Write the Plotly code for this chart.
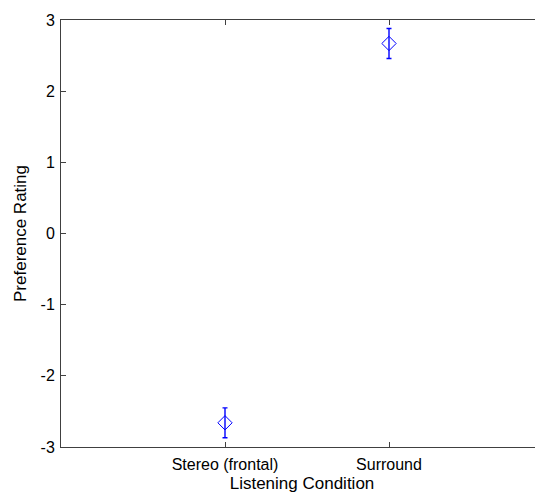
import plotly.graph_objects as go

conditions = ["Stereo (frontal)", "Surround"]
x_pos = [1, 2]
means = [-2.66, 2.67]
errors = [0.21, 0.21]
y_ticks = [-3, -2, -1, 0, 1, 2, 3]
y_tick_text = ["-3", "-2", "-1", "0", "1", "2", "3"]

fig = go.Figure()
fig.add_trace(go.Scatter(
    x=x_pos, y=means, mode="markers",
    marker=dict(symbol="diamond-open", size=11, color="#0000ff", line=dict(width=1, color="#0000ff")),
    error_y=dict(type="data", array=errors, visible=True, color="#0000ff", thickness=1.4, width=2.5),
    showlegend=False,
))

fam = "Liberation Sans, Arial, sans-serif"
# body has an 8px default margin in the page, so the figure is sized/offset accordingly
fig.update_layout(
    width=535, height=487,
    margin=dict(l=53, r=0, t=12, b=48),
    plot_bgcolor="white", paper_bgcolor="white",
    font=dict(family=fam, size=15, color="#000000"),
    xaxis=dict(
        range=[0, (543 - 61) / 164], tickvals=x_pos, ticktext=conditions,
        showline=True, linecolor="#404040", linewidth=1, mirror="ticks",
        ticks="inside", ticklen=5, tickcolor="#404040",
        showgrid=False, zeroline=False,
        ticklabelstandoff=3,
        title=dict(text="Listening Condition", standoff=4, font=dict(family=fam, size=17)),
        tickfont=dict(family=fam, size=16),
    ),
    yaxis=dict(
        range=[-3, 3], tickvals=y_ticks, ticktext=y_tick_text,
        showline=True, linecolor="#404040", linewidth=1,
        ticks="inside", ticklen=5, tickcolor="#404040",
        showgrid=False, zeroline=False,
        ticklabelstandoff=2,
        title=dict(text="Preference Rating", standoff=9, font=dict(family=fam, size=17)),
        tickfont=dict(family=fam, size=16),
    ),
)

fig.write_html("out.html")
